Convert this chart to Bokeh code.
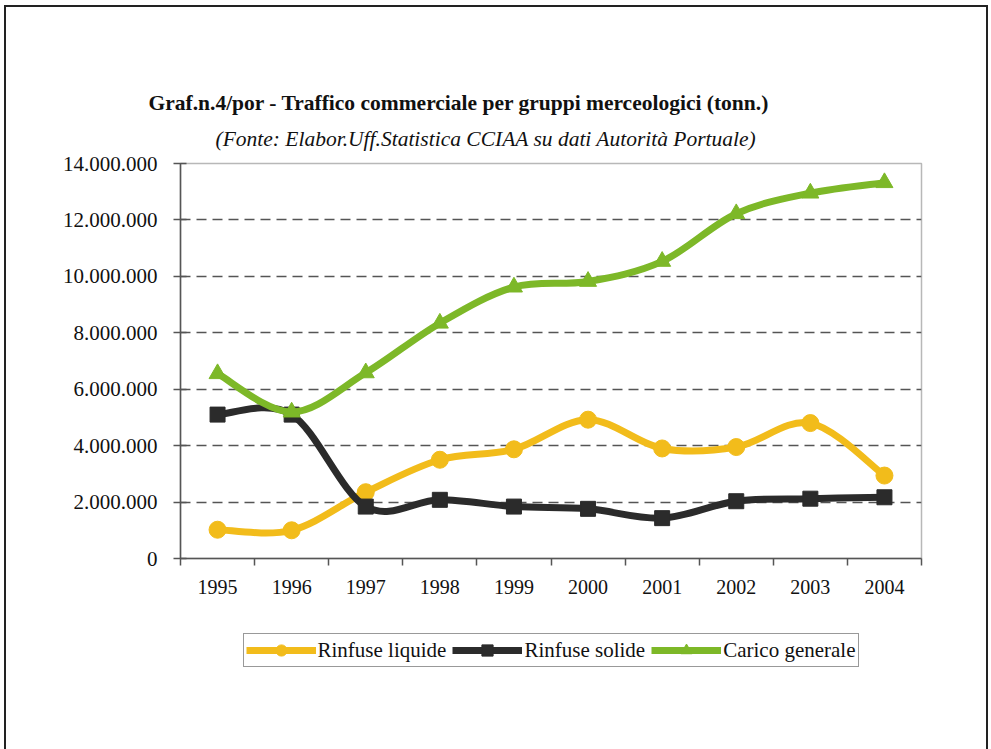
from bokeh.plotting import figure
from bokeh.layouts import column
from bokeh.models import (FixedTicker, Legend, LegendItem, Title, ColumnDataSource)
from bokeh.embed import file_html
from bokeh.resources import INLINE

# ---- data ----
years = ["1995", "1996", "1997", "1998", "1999", "2000", "2001", "2002", "2003", "2004"]
rinfuse_liquide = [1020000, 1000000, 2350000, 3500000, 3870000, 4920000, 3900000, 3950000, 4800000, 2940000]
rinfuse_solide = [5100000, 5100000, 1840000, 2080000, 1840000, 1760000, 1430000, 2030000, 2120000, 2170000]
carico_generale = [6550000, 5190000, 6580000, 8340000, 9620000, 9820000, 10530000, 12220000, 12950000, 13320000]
y_ticks = [0, 2000000, 4000000, 6000000, 8000000, 10000000, 12000000, 14000000]
y_tick_labels = ["0", "2.000.000", "4.000.000", "6.000.000", "8.000.000", "10.000.000", "12.000.000", "14.000.000"]
title_text = "Graf.n.4/por - Traffico commerciale per gruppi merceologici (tonn.)"
subtitle_text = "(Fonte: Elabor.Uff.Statistica CCIAA su dati Autorità Portuale)"

series = [
    ("Rinfuse liquide", rinfuse_liquide, "#F2BC1B", "circle", 17),
    ("Rinfuse solide", rinfuse_solide, "#2B2B2B", "square", 15),
    ("Carico generale", carico_generale, "#7DB828", "triangle", 17),
]

FONT = "Liberation Serif"
TXT = "#111111"

xs = [i + 0.5 for i in range(len(years))]

TOP_H = 612
p = figure(width=991, height=TOP_H, output_backend="svg", toolbar_location=None,
           x_range=(0, len(years)), y_range=(0, 14000000),
           min_border_left=180, min_border_right=70, min_border_top=163, min_border_bottom=TOP_H - 558)
p.title = None
p.background_fill_color = "white"
p.border_fill_color = None
p.outline_line_color = "#B8B8B8"
p.outline_line_width = 1.5

# axes
p.xaxis.ticker = FixedTicker(ticks=xs, minor_ticks=list(range(len(years) + 1)))
p.xaxis.major_label_overrides = {x: y for x, y in zip(xs, years)}
p.xaxis.major_tick_line_color = None
p.xaxis.minor_tick_line_color = "#555555"
p.xaxis.minor_tick_in = 0
p.xaxis.minor_tick_out = 7
p.xaxis.minor_tick_line_width = 1.5
p.xaxis.axis_line_color = "#555555"
p.xaxis.axis_line_width = 1.5
p.xaxis.major_label_text_font = FONT
p.xaxis.major_label_text_font_size = "20px"
p.xaxis.major_label_text_color = TXT
p.xaxis.major_label_standoff = 14

p.yaxis.ticker = FixedTicker(ticks=y_ticks)
p.yaxis.major_label_overrides = {v: s for v, s in zip(y_ticks, y_tick_labels)}
p.yaxis.major_tick_in = 6
p.yaxis.major_tick_out = 7
p.yaxis.major_tick_line_color = "#555555"
p.yaxis.major_tick_line_width = 1.5
p.yaxis.minor_tick_line_color = None
p.yaxis.axis_line_color = "#555555"
p.yaxis.axis_line_width = 1.5
p.yaxis.major_label_text_font = FONT
p.yaxis.major_label_text_font_size = "21px"
p.yaxis.major_label_text_color = TXT
p.yaxis.major_label_standoff = 16

p.xgrid.grid_line_color = None
p.ygrid.ticker = FixedTicker(ticks=y_ticks[1:-1])
p.ygrid.grid_line_color = "#555555"
p.ygrid.grid_line_width = 1.5
p.ygrid.grid_line_dash = "10 6"

# legend-only figure below the chart
q = figure(width=991, height=749 - TOP_H, output_backend="svg", toolbar_location=None,
           x_range=(0, 1), y_range=(0, 1), min_border=0)
q.title = None
q.axis.visible = False
q.grid.visible = False
q.outline_line_color = None
q.background_fill_color = None
q.border_fill_color = None

# smoothed series (Excel-like cubic Bezier through the points)
items = []
for name, vals, color, marker, size in series:
    n = len(vals)
    x0, y0, x1, y1, cx0, cy0, cx1, cy1 = [], [], [], [], [], [], [], []
    for i in range(n - 1):
        pa = (xs[max(i - 1, 0)], vals[max(i - 1, 0)])
        pb = (xs[i], vals[i])
        pc = (xs[i + 1], vals[i + 1])
        pd = (xs[min(i + 2, n - 1)], vals[min(i + 2, n - 1)])
        x0.append(pb[0]); y0.append(pb[1])
        x1.append(pc[0]); y1.append(pc[1])
        cx0.append(pb[0] + (pc[0] - pa[0]) / 6.0); cy0.append(pb[1] + (pc[1] - pa[1]) / 6.0)
        cx1.append(pc[0] - (pd[0] - pb[0]) / 6.0); cy1.append(pc[1] - (pd[1] - pb[1]) / 6.0)
    src = ColumnDataSource(dict(x0=x0, y0=y0, x1=x1, y1=y1, cx0=cx0, cy0=cy0, cx1=cx1, cy1=cy1))
    p.bezier(x0="x0", y0="y0", x1="x1", y1="y1", cx0="cx0", cy0="cy0", cx1="cx1", cy1="cy1",
             source=src, line_color=color, line_width=7, line_cap="round")
    p.scatter(xs, vals, marker=marker, size=size, fill_color=color, line_color=color)
    lr = q.line(xs, vals, line_color=color, line_width=7, visible=False)
    sr = q.scatter(xs, vals, marker=marker, size=size, fill_color=color, line_color=color, visible=False)
    items.append(LegendItem(label=name, renderers=[lr, sr]))

legend = Legend(items=items, orientation="horizontal", location="top_center",
                label_text_font=FONT, label_text_font_size="21px", label_text_color=TXT,
                glyph_width=70, glyph_height=28, label_standoff=2, spacing=6,
                padding=2, margin=21, border_line_color="#333333", border_line_width=1.5,
                background_fill_color="white", background_fill_alpha=1.0)
q.add_layout(legend, "center")

# titles (first added sits closest to the plot)
p.add_layout(Title(text=subtitle_text, text_font=FONT, text_font_style="italic",
                   text_font_size="21.5px", text_color=TXT, align="left",
                   offset=35, standoff=26), "above")
p.add_layout(Title(text=title_text, text_font=FONT, text_font_style="bold",
                   text_font_size="21.5px", text_color=TXT, align="left",
                   offset=-32, standoff=-6), "above")

layout = column(p, q, spacing=0, styles={
    "background": ("linear-gradient(#222,#222) 4px 5px / 2px 800px no-repeat, "
                   "linear-gradient(#222,#222) 4px 5px / 984px 2px no-repeat, "
                   "linear-gradient(#222,#222) 986px 5px / 2px 800px no-repeat, white"),
})

open("out.html", "w").write(file_html(layout, INLINE))
